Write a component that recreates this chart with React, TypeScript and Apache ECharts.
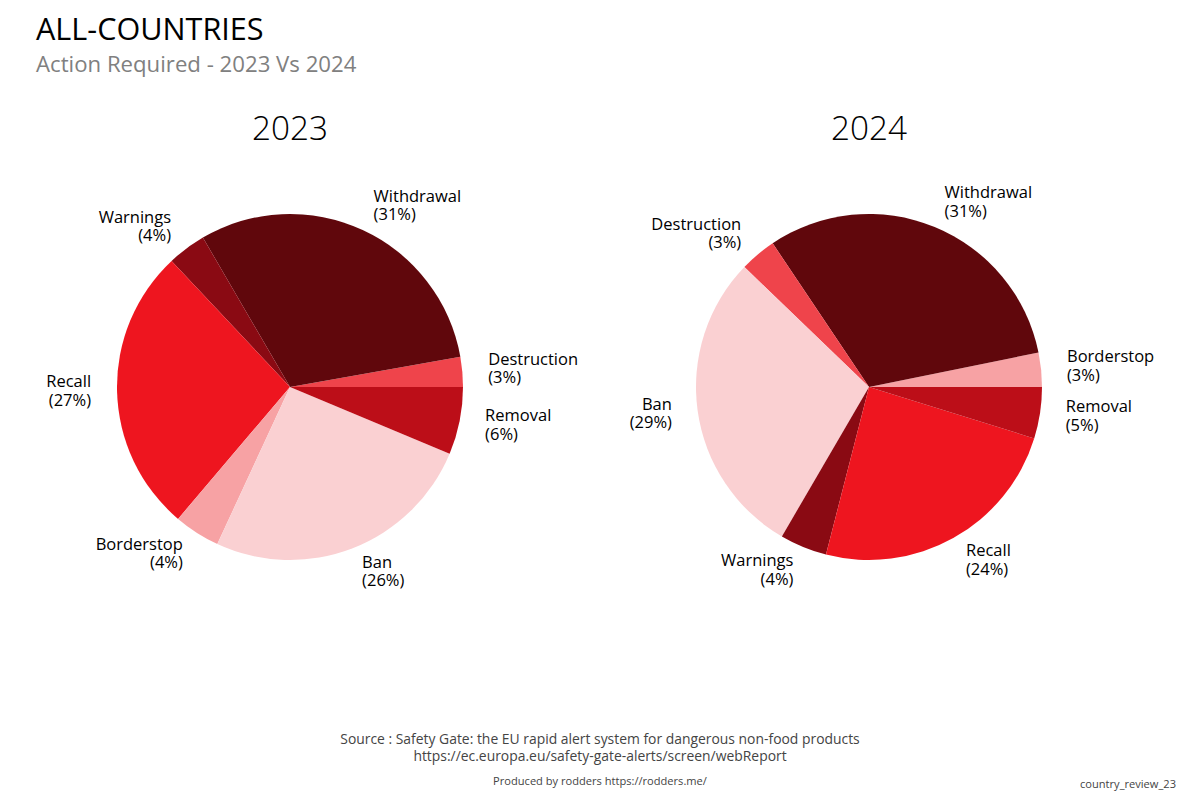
import React, { useEffect, useRef } from "react";
import * as echarts from "echarts";

const years = ["2023", "2024"];

const categories2023 = ["Destruction", "Withdrawal", "Warnings", "Recall", "Borderstop", "Ban", "Removal"];
const values2023 = [2.8, 30.6, 3.6, 26.8, 4.3, 25.6, 6.3];

const categories2024 = ["Borderstop", "Withdrawal", "Destruction", "Ban", "Warnings", "Recall", "Removal"];
const values2024 = [3.2, 31.2, 3.4, 28.8, 4.4, 24.2, 4.8];

const categoryColors: Record<string, string> = {
  Withdrawal: "#60070c",
  Warnings: "#8a0a13",
  Removal: "#bc0e18",
  Recall: "#ee151f",
  Destruction: "#ef444b",
  Borderstop: "#f7a2a4",
  Ban: "#fad0d2",
};

const FONT = "'Open Sans', 'Noto Sans', sans-serif";

function buildSeries(cats: string[], vals: number[], cx: number) {
  return {
    type: "pie",
    center: [cx, 387],
    radius: 173,
    startAngle: 0,
    clockwise: false,
    avoidLabelOverlap: false,
    silent: true,
    data: cats.map((c, i) => ({
      name: c,
      value: vals[i],
      itemStyle: { color: categoryColors[c] },
    })),
    label: {
      show: true,
      position: "outside",
      distanceToLabelLine: 0,
      formatter: (p: any) => `${p.name}\n(${Math.round(p.percent)}%)`,
      fontFamily: FONT,
      fontSize: 16.5,
      lineHeight: 18.5,
      color: "#000",
    },
    labelLayout: { dy: -2 },
    labelLine: { show: false, length: 26, length2: 0 },
    itemStyle: { borderWidth: 0 },
  };
}

export default function App() {
  const ref = useRef<HTMLDivElement>(null);
  useEffect(() => {
    const chart = echarts.init(ref.current!, null, { renderer: "svg" });
    chart.setOption({
      animation: false,
      backgroundColor: "#fff",
      title: [
        {
          text: "ALL-COUNTRIES",
          left: 36,
          top: 12,
          padding: 0,
          textStyle: { fontFamily: FONT, fontSize: 30.6, fontWeight: "normal", color: "#000" },
        },
        {
          text: "Action Required - 2023 Vs 2024",
          left: 36,
          top: 52,
          padding: 0,
          textStyle: { fontFamily: FONT, fontSize: 22.2, fontWeight: "normal", color: "#808080" },
        },
        {
          text: years[0],
          left: 290,
          top: 110,
          padding: 0,
          textAlign: "center",
          textStyle: { fontFamily: FONT, fontSize: 33.3, fontWeight: 300, color: "#000" },
        },
        {
          text: years[1],
          left: 869,
          top: 110,
          padding: 0,
          textAlign: "center",
          textStyle: { fontFamily: FONT, fontSize: 33.3, fontWeight: 300, color: "#000" },
        },
      ],
      graphic: [
        {
          type: "text",
          x: 600,
          y: 738,
          style: {
            text: "Source : Safety Gate: the EU rapid alert system for dangerous non-food products",
            fontFamily: FONT,
            fontSize: 13.9,
            fill: "#444",
            align: "center",
            verticalAlign: "middle",
          },
        },
        {
          type: "text",
          x: 600,
          y: 755,
          style: {
            text: "https://ec.europa.eu/safety-gate-alerts/screen/webReport",
            fontFamily: FONT,
            fontSize: 13.9,
            fill: "#444",
            align: "center",
            verticalAlign: "middle",
          },
        },
        {
          type: "text",
          x: 600,
          y: 780,
          style: {
            text: "Produced by rodders https://rodders.me/",
            fontFamily: FONT,
            fontSize: 11.1,
            fill: "#444",
            align: "center",
            verticalAlign: "middle",
          },
        },
        {
          type: "text",
          x: 1176,
          y: 783,
          style: {
            text: "country_review_23",
            fontFamily: FONT,
            fontSize: 11.1,
            fill: "#444",
            align: "right",
            verticalAlign: "middle",
          },
        },
      ],
      series: [buildSeries(categories2023, values2023, 290), buildSeries(categories2024, values2024, 869)],
    });
    return () => chart.dispose();
  }, []);
  return <div ref={ref} style={{ width: 1200, height: 800, position: "absolute", left: 0, top: 0 }} />;
}
